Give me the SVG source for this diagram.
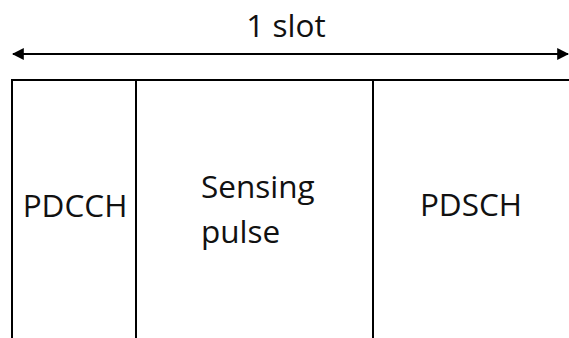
<svg xmlns="http://www.w3.org/2000/svg" width="569" height="338" viewBox="0 0 569 338">
  <style>
    .ln { stroke: #000; stroke-width: 2; fill: none; }
    .lbl { font-family: "Open Sans", "Liberation Sans", sans-serif; font-size: 31.5px; fill: #111; }
  </style>
  <defs>
    <marker id="head" viewBox="0 0 10 10" refX="9" refY="5" markerWidth="6" markerHeight="6" orient="auto-start-reverse" markerUnits="strokeWidth">
      <path d="M0,0 L10,5 L0,10 z" fill="#000"/>
    </marker>
  </defs>

  <!-- slot span arrow -->
  <g id="connectors">
    <line class="ln" x1="13" y1="54" x2="568" y2="54" marker-start="url(#head)" marker-end="url(#head)"/>
  </g>

  <g id="slot-label">
    <text class="lbl" x="286" y="37" text-anchor="middle">1 slot</text>
  </g>

  <!-- slot frame -->
  <g id="frame">
    <line class="ln" x1="12" y1="80" x2="569" y2="80"/>
    <line class="ln" x1="12" y1="79" x2="12" y2="338"/>
  </g>

  <g id="pdcch">
    <line class="ln" x1="136" y1="80" x2="136" y2="338"/>
    <text class="lbl" x="75" y="217" text-anchor="middle">PDCCH</text>
  </g>

  <g id="sensing-pulse">
    <line class="ln" x1="373" y1="80" x2="373" y2="338"/>
    <text class="lbl" x="201" y="198">Sensing</text>
    <text class="lbl" x="201" y="243">pulse</text>
  </g>

  <g id="pdsch">
    <text class="lbl" x="471" y="216" text-anchor="middle">PDSCH</text>
  </g>
</svg>
